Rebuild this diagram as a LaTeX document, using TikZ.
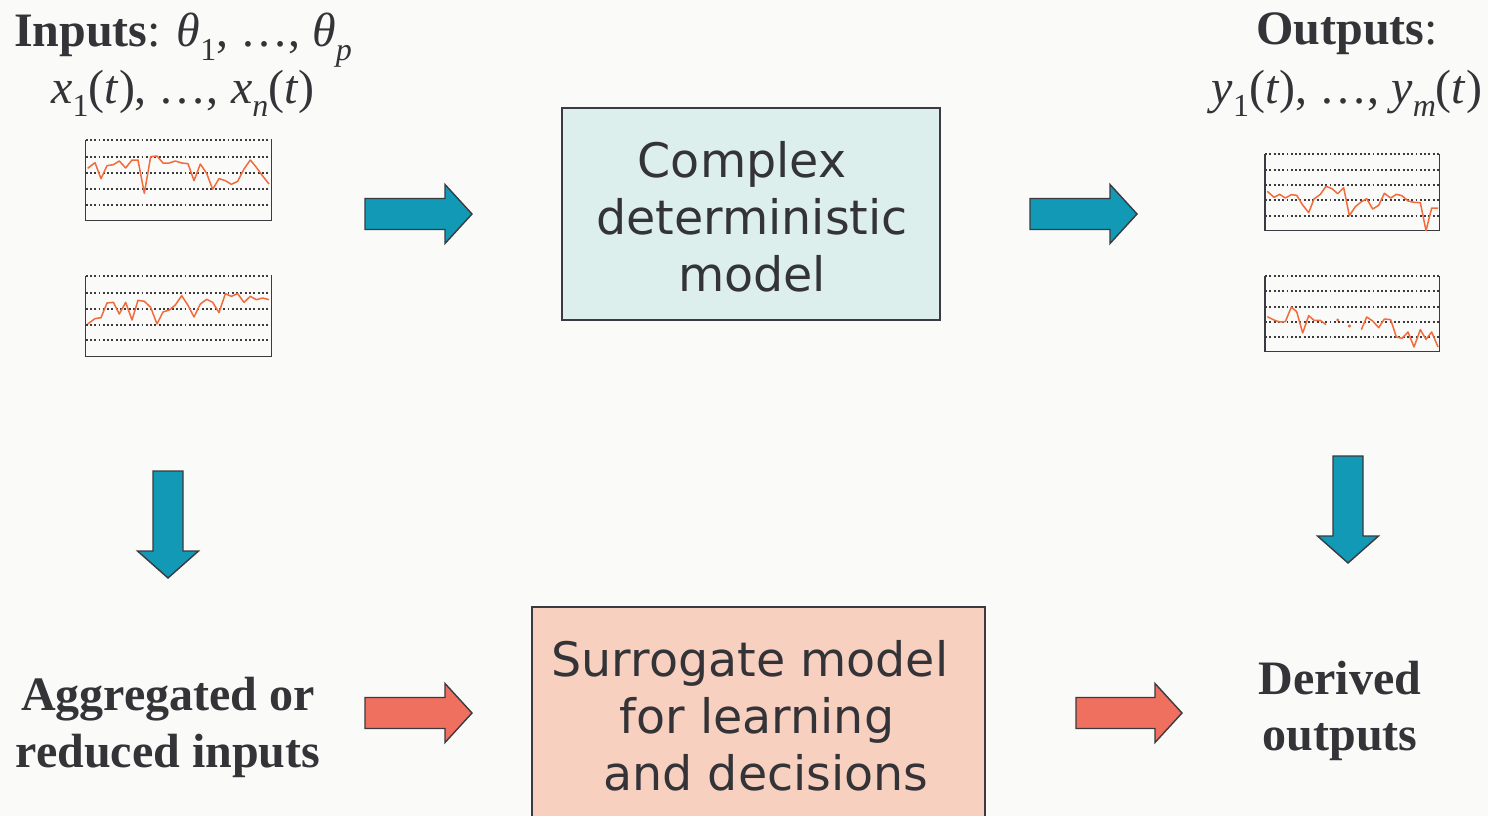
\documentclass[tikz,border=0pt]{standalone}
\usepackage{fontspec}
\setmainfont{Liberation Serif}
\newfontfamily\boxfont{DejaVu Sans}
\definecolor{bgc}{HTML}{FAFAF8}
\definecolor{txt}{HTML}{333338}
\definecolor{edge}{HTML}{3A3A40}
\definecolor{tealc}{HTML}{1199B5}
\definecolor{redc}{HTML}{F07060}
\definecolor{boxa}{HTML}{DCEFEC}
\definecolor{boxb}{HTML}{F7D0C0}
\definecolor{series}{HTML}{F26B3A}
\newcommand\sbx[1]{\raisebox{-0.28em}{\fontsize{32}{32}\selectfont #1}}
\tikzset{
  lbl/.style={text=txt, font=\fontsize{48}{58}\selectfont, inner sep=0pt, anchor=base},
  bigbox/.style={draw=edge, line width=1.6pt, inner sep=0pt},
  boxtext/.style={text=txt, align=center, font=\boxfont\fontsize{47.5}{57}\selectfont, inner sep=0pt},
  blockarrow/.style={draw=edge, line width=1.4pt, line join=miter},
  tealarrow/.style={blockarrow, fill=tealc},
  redarrow/.style={blockarrow, fill=redc},
  gridl/.style={edge, line width=1.9pt, dash pattern=on 1.9pt off 2.4pt},
  frame/.style={draw=edge, line width=1.6pt},
  ser/.style={draw=series, line width=1.5pt, line join=round},
  sdot/.style={fill=series},
}
% right arrow: style, x0, x1 (tip), yc
\newcommand\rarrow[4]{%
  \draw[#1] (#2,#4-15.5) -- (#3-27,#4-15.5) -- (#3-27,#4-29.5) -- (#3,#4) -- (#3-27,#4+29.5) -- (#3-27,#4+15.5) -- (#2,#4+15.5) -- cycle;}
% down arrow: style, xc, y0, y1 (tip)
\newcommand\darrow[4]{%
  \draw[#1] (#2-15,#3) -- (#2+15,#3) -- (#2+15,#4-27) -- (#2+30.5,#4-27) -- (#2,#4) -- (#2-30.5,#4-27) -- (#2-15,#4-27) -- cycle;}
\begin{document}
\begin{tikzpicture}[x=1pt,y=-1pt]
\fill[bgc] (0,0) rectangle (1488,816);
\useasboundingbox (0,0) rectangle (1488,816);

% labels
\node[lbl] (inA) at (183,47) {\textbf{Inputs}: \textit{θ}\sbx{1}, …, \textit{θ}\sbx{\textit{p}}};
\node[lbl] (inB) at (183,103) {\textit{x}\sbx{1}(\textit{t}), …, \textit{x}\sbx{\textit{n}}(\textit{t})};
\node[lbl] (outA) at (1347,45) {\textbf{Outputs}:};
\node[lbl] (outB) at (1347,103) {\textit{y}\sbx{1}(\textit{t}), …, \textit{y}\sbx{\textit{m}}(\textit{t})};
\node[lbl] (aggA) at (168,710) {\textbf{Aggregated or}};
\node[lbl] (aggB) at (168,767) {\textbf{reduced inputs}};
\node[lbl] (derA) at (1340,694) {\textbf{Derived}};
\node[lbl] (derB) at (1340,750) {\textbf{outputs}};

% boxes
\node[bigbox, fill=boxa, minimum width=378pt, minimum height=212pt] (cdm) at (751,214) {};
\node[boxtext] (cdmt) at (752,217) {Complex\hspace*{20pt}\\deterministic\\model};
\node[bigbox, fill=boxb, minimum width=453pt, minimum height=215pt] (sur) at (758.5,714.5) {};
\node[boxtext] (surt) at (750,716) {Surrogate model\\\hspace*{14pt}for learning\\\hspace*{32pt}and decisions};

% arrows
\rarrow{tealarrow}{365}{472}{214}
\rarrow{tealarrow}{1030}{1137}{214}
\darrow{tealarrow}{168}{471}{578}
\darrow{tealarrow}{1348}{456}{563}
\rarrow{redarrow}{365}{472}{713}
\rarrow{redarrow}{1076}{1182}{713}

% charts left
\begin{scope}[shift={(75,130)}, scale=1/3]
  \foreach \yy in {30,80,128,177,225} \draw[gridl] (32,\yy) -- (590,\yy);
  \draw[frame] (32,30) -- (32,272) -- (590,272) -- (590,30);
  \draw[ser] (38,115)--(60,98)--(78,146)--(96,107)--(115,104)--(133,93)--(152,114)--(171,90)--(189,90)--(208,190)--(227,80)--(246,78)--(264,99)--(283,99)--(301,93)--(320,99)--(339,101)--(357,152)--(376,102)--(395,130)--(413,178)--(432,146)--(451,152)--(469,163)--(488,154)--(507,117)--(526,90)--(544,112)--(563,138)--(582,162);
  \foreach \yy in {438,490,536,586,631} \draw[gridl] (32,\yy) -- (590,\yy);
  \draw[frame] (32,438) -- (32,680) -- (590,680) -- (590,438);
  \draw[ser] (38,582)--(60,566)--(78,563)--(96,519)--(115,517)--(133,552)--(152,517)--(171,570)--(189,511)--(208,514)--(227,532)--(246,582)--(264,546)--(283,540)--(301,525)--(320,497)--(339,526)--(357,561)--(376,522)--(395,508)--(413,517)--(432,548)--(451,491)--(469,499)--(488,491)--(507,517)--(526,499)--(544,509)--(563,504)--(582,509);
\end{scope}

% charts right
\begin{scope}[shift={(1250,145)}, scale=1/3]
  \foreach \yy in {28,74,120,166,212} \draw[gridl] (45,\yy) -- (568,\yy);
  \draw[frame] (45,28) -- (45,257) -- (568,257) -- (568,28);
  \draw[ser] (52,139)--(72,157)--(89,148)--(106,159)--(124,149)--(140,151)--(158,180)--(176,203)--(192,162)--(211,148)--(228,124)--(246,131)--(263,146)--(281,128)--(298,212)--(316,185)--(333,171)--(350,161)--(368,192)--(386,181)--(403,145)--(422,159)--(439,148)--(456,152)--(474,168)--(492,172)--(511,173)--(528,257)--(545,189)--(564,189);
  \foreach \yy in {393,439,485,530,577} \draw[gridl] (45,\yy) -- (568,\yy);
  \draw[frame] (45,393) -- (45,620) -- (568,620) -- (568,393);
  \draw[ser] (52,515)--(72,525)--(89,531)--(106,530)--(124,486)--(140,500)--(158,564)--(176,512)--(192,526)--(211,526)--(228,539);
  \fill[sdot] (263,525) circle (5);
  \fill[sdot] (298,543) circle (5);
  \draw[ser] (334,554)--(350,516)--(368,528)--(386,548)--(403,522)--(422,524)--(439,576)--(456,580)--(474,561)--(492,606)--(511,554)--(528,583)--(545,561)--(564,606);
\end{scope}
\end{tikzpicture}
\end{document}
